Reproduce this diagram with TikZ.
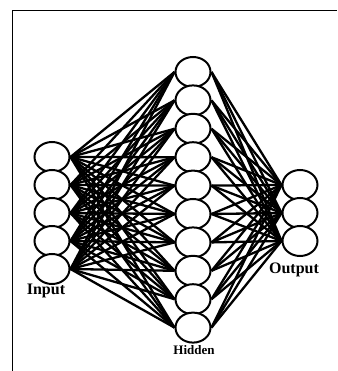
\documentclass[tikz,border=0pt]{standalone}
\usepackage{fontspec}
\setmainfont{Liberation Serif}
\usetikzlibrary{shapes.geometric,backgrounds}
\begin{document}
\begin{tikzpicture}[x=1pt,y=-1pt,
  neuron/.style={ellipse,draw=black,fill=white,line width=2pt,minimum width=35pt,minimum height=30pt,inner sep=0pt},
  wire/.style={line width=2.3pt,black},
  lbl/.style={font=\bfseries\fontsize{16}{16}\selectfont,inner sep=0pt,anchor=base},
  slbl/.style={font=\bfseries\fontsize{13}{14}\selectfont,inner sep=0pt,anchor=base}]
\useasboundingbox (0,0) rectangle (337,371);
% frame
\coordinate (f1) at (12.5,371);
\coordinate (f2) at (12.5,10.5);
\coordinate (f3) at (337,10.5);
\draw[line width=1.5pt] (f1) -- (f2) -- (f3);
% input nodes
\foreach \k/\y in {1/157,2/185,3/213,4/241,5/269}
  \path (52,\y) node[neuron] (i\k) {};
% hidden nodes
\foreach \k in {1,...,10}
  \path (193,{72+(\k-1)*28.4}) node[neuron] (h\k) {};
% output nodes
\foreach \k/\y in {1/185,2/213,3/241}
  \path (300,\y) node[neuron] (o\k) {};
% connections
\begin{pgfonlayer}{background}
\foreach \a in {1,...,5}
  \foreach \b in {1,...,10}
    \draw[wire] (i\a.east) -- (h\b.west);
\foreach \b in {1,...,10}
  \foreach \c in {1,2,3}
    \draw[wire] (h\b.east) -- (o\c.west);
\end{pgfonlayer}
% labels
\node[lbl] (inlbl) at (46,294) {Input};
\node[lbl] (outlbl) at (294,273) {Output};
\node[slbl] (hidlbl) at (194,354) {Hidden};
\end{tikzpicture}
\end{document}
